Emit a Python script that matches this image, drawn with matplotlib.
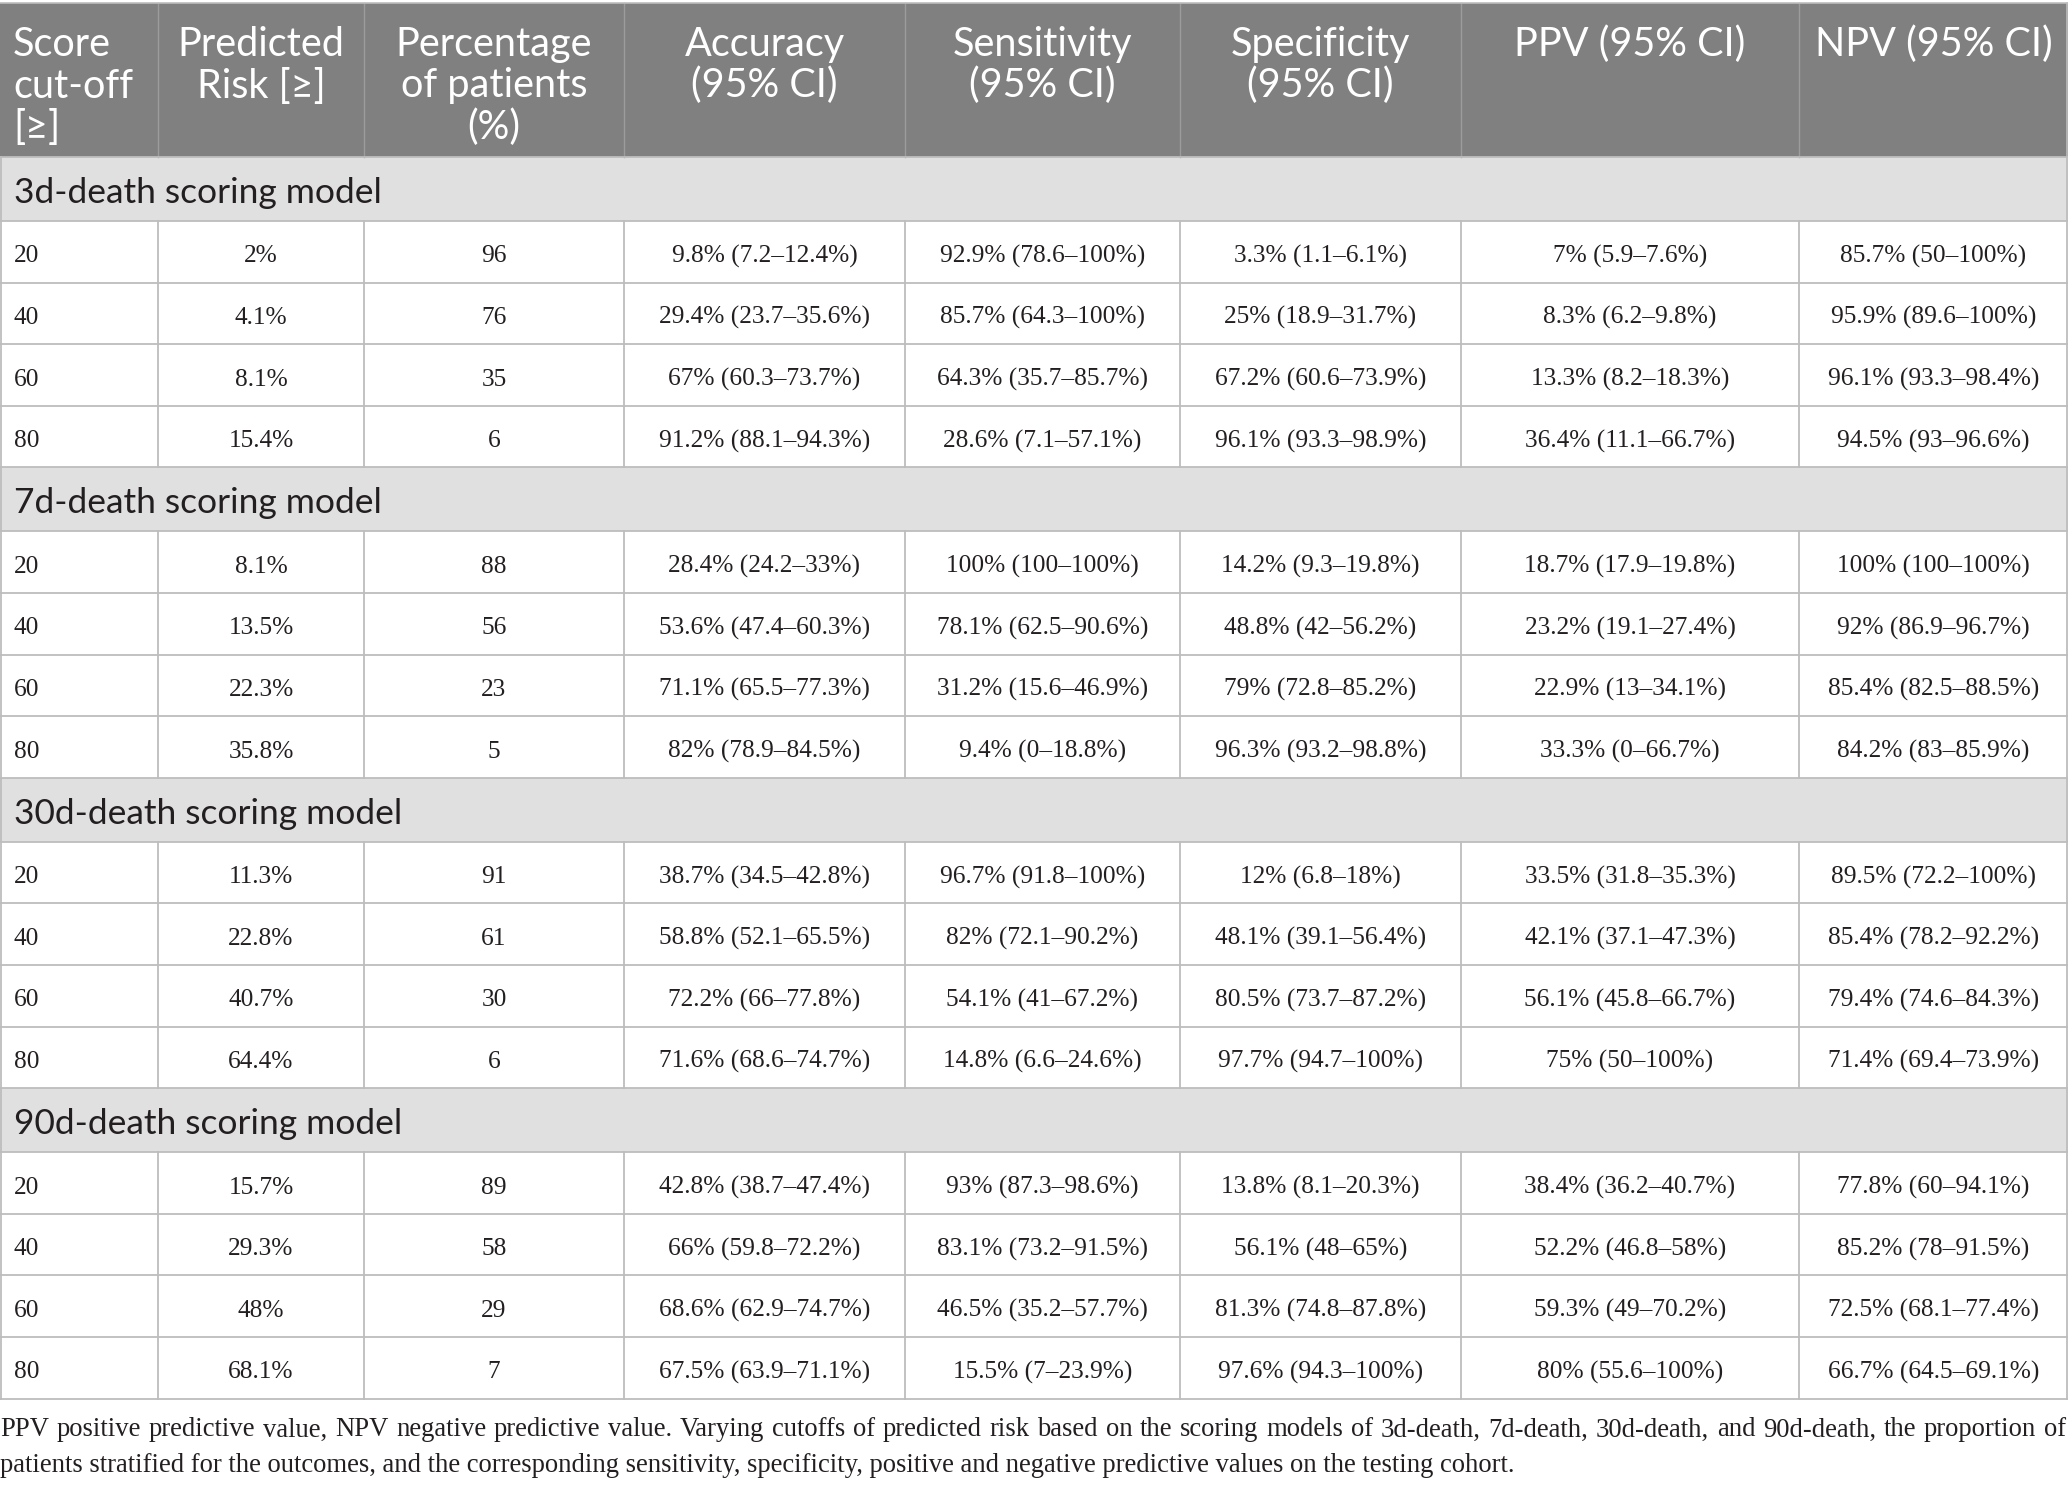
import matplotlib
matplotlib.use("Agg")
import matplotlib.pyplot as plt
from matplotlib.patches import Rectangle

# ---------------- data ----------------
header_lines = [
    ["Score", "cut-off", "[\u2265]"],
    ["Predicted", "Risk [\u2265]"],
    ["Percentage", "of patients", "(%)"],
    ["Accuracy", "(95% CI)"],
    ["Sensitivity", "(95% CI)"],
    ["Specificity", "(95% CI)"],
    ["PPV (95% CI)"],
    ["NPV (95% CI)"],
]

groups = ["3d-death scoring model", "7d-death scoring model",
          "30d-death scoring model", "90d-death scoring model"]

cutoffs = ["20", "40", "60", "80"]

risk = [["2%", "4.1%", "8.1%", "15.4%"],
        ["8.1%", "13.5%", "22.3%", "35.8%"],
        ["11.3%", "22.8%", "40.7%", "64.4%"],
        ["15.7%", "29.3%", "48%", "68.1%"]]

pct_patients = [["96", "76", "35", "6"],
                ["88", "56", "23", "5"],
                ["91", "61", "30", "6"],
                ["89", "58", "29", "7"]]

accuracy = [["9.8% (7.2\u201312.4%)", "29.4% (23.7\u201335.6%)", "67% (60.3\u201373.7%)", "91.2% (88.1\u201394.3%)"],
            ["28.4% (24.2\u201333%)", "53.6% (47.4\u201360.3%)", "71.1% (65.5\u201377.3%)", "82% (78.9\u201384.5%)"],
            ["38.7% (34.5\u201342.8%)", "58.8% (52.1\u201365.5%)", "72.2% (66\u201377.8%)", "71.6% (68.6\u201374.7%)"],
            ["42.8% (38.7\u201347.4%)", "66% (59.8\u201372.2%)", "68.6% (62.9\u201374.7%)", "67.5% (63.9\u201371.1%)"]]

sensitivity = [["92.9% (78.6\u2013100%)", "85.7% (64.3\u2013100%)", "64.3% (35.7\u201385.7%)", "28.6% (7.1\u201357.1%)"],
               ["100% (100\u2013100%)", "78.1% (62.5\u201390.6%)", "31.2% (15.6\u201346.9%)", "9.4% (0\u201318.8%)"],
               ["96.7% (91.8\u2013100%)", "82% (72.1\u201390.2%)", "54.1% (41\u201367.2%)", "14.8% (6.6\u201324.6%)"],
               ["93% (87.3\u201398.6%)", "83.1% (73.2\u201391.5%)", "46.5% (35.2\u201357.7%)", "15.5% (7\u201323.9%)"]]

specificity = [["3.3% (1.1\u20136.1%)", "25% (18.9\u201331.7%)", "67.2% (60.6\u201373.9%)", "96.1% (93.3\u201398.9%)"],
               ["14.2% (9.3\u201319.8%)", "48.8% (42\u201356.2%)", "79% (72.8\u201385.2%)", "96.3% (93.2\u201398.8%)"],
               ["12% (6.8\u201318%)", "48.1% (39.1\u201356.4%)", "80.5% (73.7\u201387.2%)", "97.7% (94.7\u2013100%)"],
               ["13.8% (8.1\u201320.3%)", "56.1% (48\u201365%)", "81.3% (74.8\u201387.8%)", "97.6% (94.3\u2013100%)"]]

ppv = [["7% (5.9\u20137.6%)", "8.3% (6.2\u20139.8%)", "13.3% (8.2\u201318.3%)", "36.4% (11.1\u201366.7%)"],
       ["18.7% (17.9\u201319.8%)", "23.2% (19.1\u201327.4%)", "22.9% (13\u201334.1%)", "33.3% (0\u201366.7%)"],
       ["33.5% (31.8\u201335.3%)", "42.1% (37.1\u201347.3%)", "56.1% (45.8\u201366.7%)", "75% (50\u2013100%)"],
       ["38.4% (36.2\u201340.7%)", "52.2% (46.8\u201358%)", "59.3% (49\u201370.2%)", "80% (55.6\u2013100%)"]]

npv = [["85.7% (50\u2013100%)", "95.9% (89.6\u2013100%)", "96.1% (93.3\u201398.4%)", "94.5% (93\u201396.6%)"],
       ["100% (100\u2013100%)", "92% (86.9\u201396.7%)", "85.4% (82.5\u201388.5%)", "84.2% (83\u201385.9%)"],
       ["89.5% (72.2\u2013100%)", "85.4% (78.2\u201392.2%)", "79.4% (74.6\u201384.3%)", "71.4% (69.4\u201373.9%)"],
       ["77.8% (60\u201394.1%)", "85.2% (78\u201391.5%)", "72.5% (68.1\u201377.4%)", "66.7% (64.5\u201369.1%)"]]

footnote_line1 = ("PPV positive predictive value, NPV negative predictive value. Varying cutoffs of predicted risk "
                  "based on the scoring models of 3d-death, 7d-death, 30d-death, and 90d-death, the proportion of")
footnote_line2 = ("patients stratified for the outcomes, and the corresponding sensitivity, specificity, positive "
                  "and negative predictive values on the testing cohort.")

# ---------------- layout ----------------
W, H = 2068, 1488
col_edges = [0, 158, 364, 624, 905, 1180, 1461, 1799, 2068]
header_h = 157
group_h = 64
row_h = 61.6
top = 3

HEADER_BG = "#7f807f"
HEADER_SEP = "#9b9c9b"
GROUP_BG = "#e1e0e1"
GRID = "#bdbdbd"
TXT = "#231f20"
SANS = ["Lato", "DejaVu Sans"]
SERIF = ["Liberation Serif", "DejaVu Serif"]

fig = plt.figure(figsize=(W / 100, H / 100), dpi=100)
ax = fig.add_axes([0, 0, 1, 1])
ax.set_xlim(0, W)
ax.set_ylim(H, 0)
ax.axis("off")

# header
ax.add_patch(Rectangle((0, top), W, header_h - top, facecolor=HEADER_BG, edgecolor="none", zorder=1))
ax.plot([0, W], [top, top], color=GRID, lw=1.2, zorder=3)
for xe in col_edges[1:-1]:
    ax.plot([xe, xe], [top, header_h], color=HEADER_SEP, lw=1.0, zorder=2)
ax.plot([W - 1, W - 1], [top, header_h], color=GRID, lw=1.2, zorder=3)

for ci, lines in enumerate(header_lines):
    x0, x1 = col_edges[ci], col_edges[ci + 1]
    for li, s in enumerate(lines):
        yb = 56 + li * 41.5
        if ci == 0:
            ax.text(x0 + 13, yb, s, ha="left", va="baseline", color="white",
                    fontsize=28.5, family=SANS, zorder=4)
        else:
            ax.text((x0 + x1) / 2, yb, s, ha="center", va="baseline", color="white",
                    fontsize=28.5, family=SANS, zorder=4)

# body
y = header_h
for gi, gname in enumerate(groups):
    ax.add_patch(Rectangle((0, y), W, group_h, facecolor=GROUP_BG, edgecolor="none", zorder=1))
    ax.plot([0, W], [y, y], color=GRID, lw=1.3, zorder=3)
    ax.plot([0.7, 0.7], [y, y + group_h], color=GRID, lw=1.3, zorder=3)
    ax.plot([W - 1, W - 1], [y, y + group_h], color=GRID, lw=1.3, zorder=3)
    ax.text(14, y + group_h / 2 + 4, gname, ha="left", va="center", color=TXT,
            fontsize=25.5, family=SANS, zorder=4)
    y += group_h
    for ri in range(4):
        ax.plot([0, W], [y, y], color=GRID, lw=1.3, zorder=3)
        cells = [cutoffs[ri], risk[gi][ri], pct_patients[gi][ri], accuracy[gi][ri],
                 sensitivity[gi][ri], specificity[gi][ri], ppv[gi][ri], npv[gi][ri]]
        for ci, s in enumerate(cells):
            x0, x1 = col_edges[ci], col_edges[ci + 1]
            yc = y + row_h / 2 + 4.5
            if ci == 0:
                ax.text(x0 + 14, yc, s, ha="left", va="center", color=TXT,
                        fontsize=18.3, family=SERIF, zorder=4)
            else:
                ax.text((x0 + x1) / 2, yc, s, ha="center", va="center", color=TXT,
                        fontsize=18.3, family=SERIF, zorder=4)
        for xe in col_edges:
            xx = min(max(xe, 0.7), W - 1)
            ax.plot([xx, xx], [y, y + row_h], color=GRID, lw=1.3, zorder=3)
        y += row_h
ax.plot([0, W], [y, y], color=GRID, lw=1.3, zorder=3)

# footnote (line 1 justified)
fig.canvas.draw()
renderer = fig.canvas.get_renderer()
words = footnote_line1.split(" ")
fs_foot = 19.2
ytext1 = 1430
tmp = []
total_w = 0
for wd in words:
    t = ax.text(0, ytext1, wd, ha="left", va="center", color=TXT, fontsize=fs_foot, family=SERIF)
    bb = t.get_window_extent(renderer=renderer)
    tmp.append((t, bb.width))
    total_w += bb.width
gap = (W - 2 - total_w) / (len(words) - 1)
if gap < 2:
    gap = 2
xcur = 0
for t, wdt in tmp:
    t.set_x(xcur)
    xcur += wdt + gap
ax.text(0, 1466, footnote_line2, ha="left", va="center", color=TXT, fontsize=fs_foot, family=SERIF)

fig.savefig("out.png", dpi=100, facecolor="white")
